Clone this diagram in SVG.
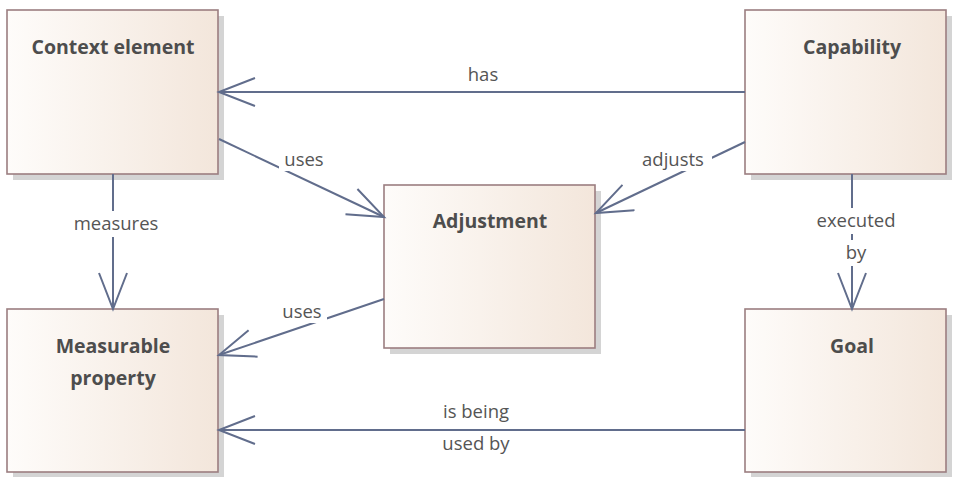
<svg xmlns="http://www.w3.org/2000/svg" width="963" height="477" viewBox="0 0 963 477">
<style>
.box{fill:url(#g);stroke:#9b7e80;stroke-width:1.6}
.sh{fill:#d4d4d4}
.t{font-family:"Open Sans","Noto Sans",sans-serif;font-weight:bold;font-size:19.5px;fill:#4d4d4d;text-anchor:middle}
.c{stroke:#616d8c;stroke-width:2;fill:none}
.l{font-family:"Open Sans","Noto Sans",sans-serif;font-size:18.5px;fill:#555;text-anchor:middle}
.bg{fill:#fff}
</style>
<defs>
<linearGradient id="g" x1="0" y1="0" x2="1" y2="0">
<stop offset="0" stop-color="#fefcfa"/>
<stop offset="1" stop-color="#f3e6db"/>
</linearGradient>
<marker id="a" markerUnits="userSpaceOnUse" markerWidth="40" markerHeight="32" refX="37" refY="15" orient="auto" viewBox="0 0 40 32">
<path d="M1,1 L37,15 L1,29" fill="none" stroke="#616d8c" stroke-width="2"/>
</marker>
</defs>
<g id="node-context">
<rect class="sh" x="13" y="16" width="211" height="164"/>
<rect class="box" x="7" y="10" width="211" height="164"/>
<text class="t" x="113" y="54">Context element</text>
</g>
<g id="node-capability">
<rect class="sh" x="751" y="16" width="201" height="164"/>
<rect class="box" x="745" y="10" width="201" height="164"/>
<text class="t" x="852" y="54">Capability</text>
</g>
<g id="node-adjustment">
<rect class="sh" x="390" y="191" width="211" height="163"/>
<rect class="box" x="384" y="185" width="211" height="163"/>
<text class="t" x="490" y="228">Adjustment</text>
</g>
<g id="node-measurable">
<rect class="sh" x="13" y="315" width="211" height="163"/>
<rect class="box" x="7" y="309" width="211" height="163"/>
<text class="t" x="113" y="353">Measurable</text>
<text class="t" x="113" y="385">property</text>
</g>
<g id="node-goal">
<rect class="sh" x="751" y="315" width="201" height="163"/>
<rect class="box" x="745" y="309" width="201" height="163"/>
<text class="t" x="852" y="353">Goal</text>
</g>
<g id="connectors">
<line class="c" x1="745" y1="92" x2="219" y2="92" marker-end="url(#a)"/>
<text class="l" x="483" y="81">has</text>
<line class="c" x1="219" y1="139" x2="384" y2="217" marker-end="url(#a)"/>
<rect class="bg" x="279" y="147" width="50" height="24"/>
<text class="l" x="304" y="166">uses</text>
<line class="c" x1="745" y1="142" x2="596" y2="213" marker-end="url(#a)"/>
<rect class="bg" x="636" y="147" width="76" height="24"/>
<text class="l" x="673" y="166">adjusts</text>
<line class="c" x1="384" y1="299" x2="219" y2="355" marker-end="url(#a)"/>
<rect class="bg" x="277" y="299" width="50" height="24"/>
<text class="l" x="302" y="318">uses</text>
<line class="c" x1="113" y1="174" x2="113" y2="309" marker-end="url(#a)"/>
<rect class="bg" x="66" y="211" width="100" height="26"/>
<text class="l" x="116" y="230">measures</text>
<line class="c" x1="852" y1="174" x2="852" y2="309" marker-end="url(#a)"/>
<rect class="bg" x="810" y="208" width="92" height="26"/>
<rect class="bg" x="841" y="240" width="30" height="26"/>
<text class="l" x="856" y="227">executed</text>
<text class="l" x="856" y="259">by</text>
<line class="c" x1="745" y1="430" x2="219" y2="430" marker-end="url(#a)"/>
<text class="l" x="476" y="418">is being</text>
<text class="l" x="476" y="450">used by</text>
</g>
</svg>
